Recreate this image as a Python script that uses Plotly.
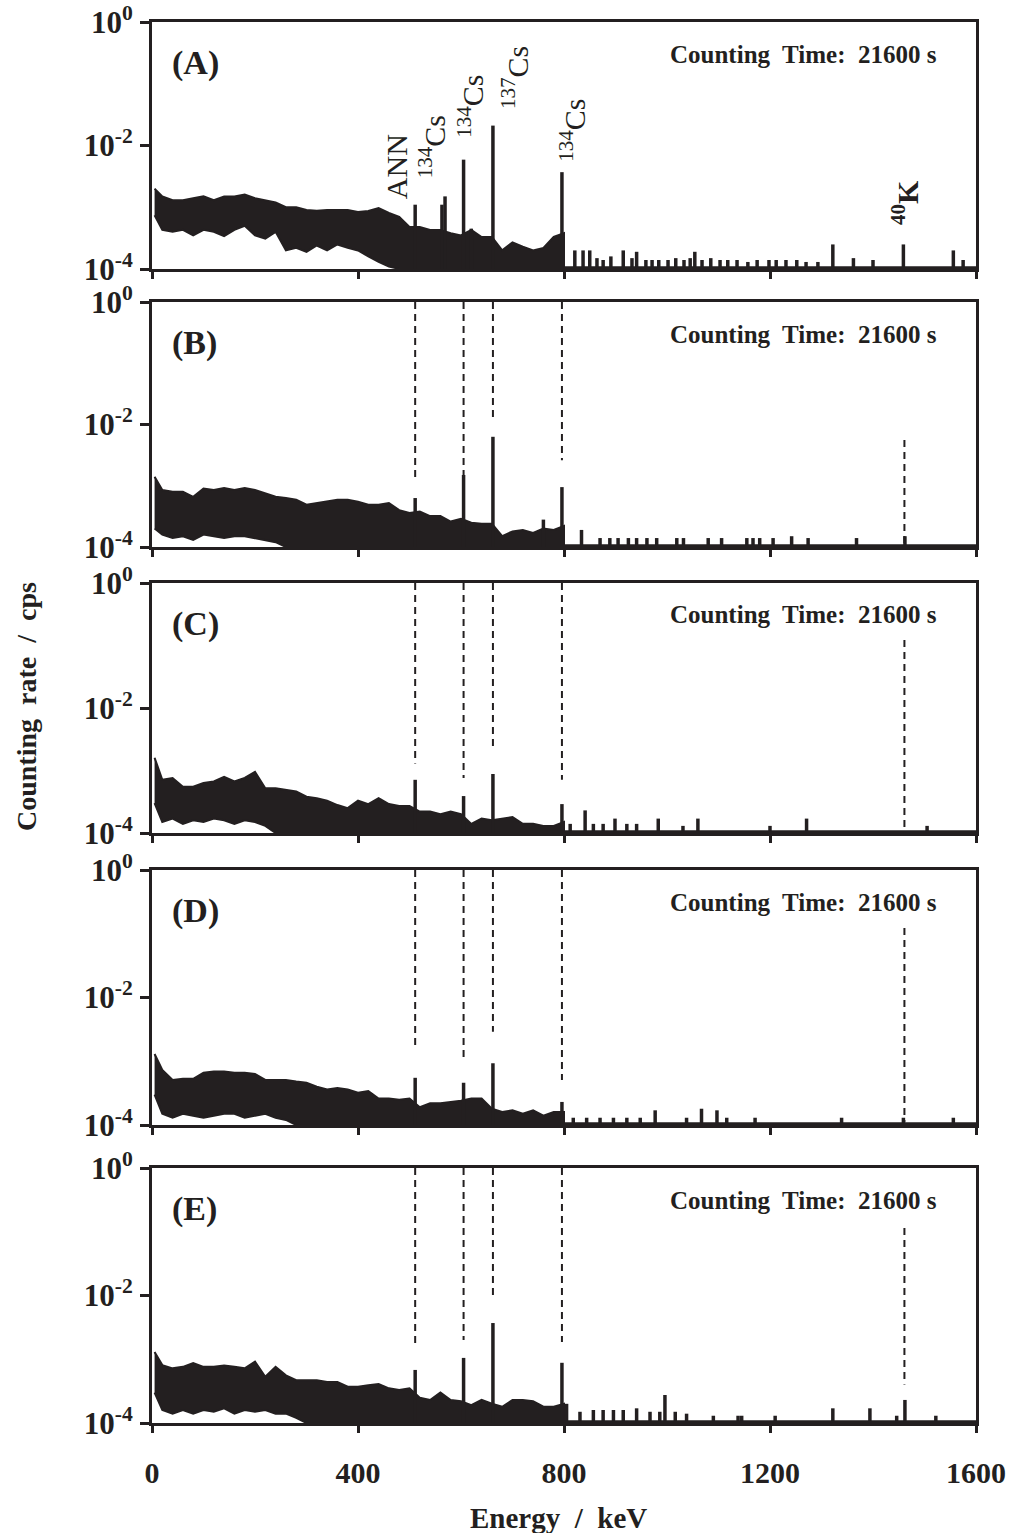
import plotly.graph_objects as go

# ---------------- data ----------------
energy_grid = [5, 20, 40, 60, 80, 100, 120, 140, 160, 180, 200, 220, 240, 260, 280, 300,
               320, 340, 360, 380, 400, 420, 440, 460, 480, 500, 520, 540, 560, 580, 600,
               620, 640, 660, 680, 700, 720, 740, 760, 780, 800]

upper_A = [2.0e-3, 1.5e-3, 1.3e-3, 1.3e-3, 1.4e-3, 1.5e-3, 1.3e-3, 1.5e-3, 1.5e-3, 1.6e-3,
           1.4e-3, 1.3e-3, 1.2e-3, 1.0e-3, 1.0e-3, 9.0e-4, 8.8e-4, 9.0e-4, 9.0e-4, 9.0e-4,
           8.4e-4, 8.7e-4, 9.7e-4, 8.1e-4, 7.0e-4, 4.8e-4, 4.8e-4, 4.3e-4, 4.3e-4, 3.8e-4,
           3.5e-4, 4.3e-4, 3.3e-4, 3.3e-4, 2.0e-4, 2.7e-4, 2.3e-4, 2.0e-4, 2.2e-4, 3.3e-4, 3.8e-4]
lower_A = [7.4e-4, 4.3e-4, 4.0e-4, 4.3e-4, 3.5e-4, 4.3e-4, 4.0e-4, 3.4e-4, 4.3e-4, 5.0e-4,
           3.5e-4, 3.1e-4, 4.0e-4, 2.0e-4, 2.2e-4, 1.9e-4, 2.4e-4, 2.0e-4, 2.5e-4, 2.2e-4,
           2.0e-4, 1.6e-4, 1.3e-4, 1.1e-4, 1e-4, 1e-4, 1e-4, 1e-4, 1e-4, 1e-4,
           1e-4, 1e-4, 1e-4, 1e-4, 1e-4, 1e-4, 1e-4, 1e-4, 1e-4, 1e-4, 1e-4]
peakE_A = [511, 563, 569, 605, 620, 662, 796, 821, 837, 850, 864, 876, 891, 915, 932, 941,
           959, 971, 984, 1002, 1017, 1033, 1045, 1054, 1068, 1085, 1103, 1118, 1136, 1157,
           1175, 1198, 1212, 1231, 1252, 1270, 1293, 1322, 1362, 1400, 1459, 1556, 1575]
peakH_A = [1.1e-3, 1.1e-3, 1.5e-3, 5.9e-3, 4.5e-4, 2.1e-2, 3.7e-3, 2.0e-4, 2.0e-4, 2.0e-4,
           1.5e-4, 1.4e-4, 1.6e-4, 2.0e-4, 1.5e-4, 1.9e-4, 1.4e-4, 1.4e-4, 1.4e-4, 1.4e-4,
           1.5e-4, 1.4e-4, 1.5e-4, 1.9e-4, 1.4e-4, 1.5e-4, 1.4e-4, 1.4e-4, 1.4e-4, 1.3e-4,
           1.4e-4, 1.4e-4, 1.4e-4, 1.4e-4, 1.4e-4, 1.3e-4, 1.3e-4, 2.5e-4, 1.5e-4, 1.4e-4,
           2.5e-4, 2.0e-4, 1.4e-4]

upper_B = [1.4e-3, 8.5e-4, 8.0e-4, 8.0e-4, 6.6e-4, 9.0e-4, 8.5e-4, 9.2e-4, 8.5e-4, 9.2e-4,
           8.5e-4, 7.6e-4, 6.6e-4, 6.3e-4, 5.9e-4, 4.9e-4, 5.2e-4, 5.5e-4, 5.9e-4, 5.9e-4,
           5.5e-4, 4.9e-4, 4.9e-4, 5.2e-4, 4.0e-4, 3.6e-4, 3.8e-4, 3.2e-4, 3.2e-4, 2.6e-4,
           2.9e-4, 2.5e-4, 2.4e-4, 2.4e-4, 1.5e-4, 1.8e-4, 1.9e-4, 1.7e-4, 2.0e-4, 1.9e-4, 2.2e-4]
lower_B = [2.0e-4, 1.6e-4, 1.4e-4, 1.5e-4, 1.3e-4, 1.6e-4, 1.5e-4, 1.4e-4, 1.5e-4, 1.5e-4,
           1.4e-4, 1.3e-4, 1.2e-4, 1e-4, 1e-4, 1e-4, 1e-4, 1e-4, 1e-4, 1e-4,
           1e-4, 1e-4, 1e-4, 1e-4, 1e-4, 1e-4, 1e-4, 1e-4, 1e-4, 1e-4,
           1e-4, 1e-4, 1e-4, 1e-4, 1e-4, 1e-4, 1e-4, 1e-4, 1e-4, 1e-4, 1e-4]
peakE_B = [511, 605, 662, 760, 796, 834, 870, 889, 905, 925, 941, 961, 980, 1019, 1032, 1080,
           1106, 1155, 1167, 1180, 1206, 1242, 1274, 1368, 1462]
peakH_B = [6.3e-4, 1.5e-3, 6.3e-3, 2.8e-4, 9.5e-4, 1.9e-4, 1.4e-4, 1.4e-4, 1.4e-4, 1.4e-4,
           1.4e-4, 1.4e-4, 1.4e-4, 1.4e-4, 1.4e-4, 1.4e-4, 1.4e-4, 1.4e-4, 1.4e-4, 1.4e-4,
           1.4e-4, 1.5e-4, 1.4e-4, 1.4e-4, 1.5e-4]

upper_C = [1.6e-3, 7.1e-4, 7.6e-4, 5.5e-4, 5.5e-4, 6.3e-4, 6.7e-4, 7.9e-4, 6.7e-4, 7.6e-4,
           9.5e-4, 5.2e-4, 5.2e-4, 4.9e-4, 4.6e-4, 3.8e-4, 3.6e-4, 3.3e-4, 2.8e-4, 2.5e-4,
           3.3e-4, 2.9e-4, 3.6e-4, 2.9e-4, 2.7e-4, 2.7e-4, 2.2e-4, 2.2e-4, 2.0e-4, 2.2e-4,
           2.0e-4, 1.4e-4, 1.7e-4, 1.6e-4, 1.7e-4, 1.8e-4, 1.4e-4, 1.4e-4, 1.3e-4, 1.3e-4, 1.5e-4]
lower_C = [3.0e-4, 1.5e-4, 1.7e-4, 1.4e-4, 1.6e-4, 1.5e-4, 1.7e-4, 1.6e-4, 1.4e-4, 1.6e-4,
           1.5e-4, 1.3e-4, 1e-4, 1e-4, 1e-4, 1e-4, 1e-4, 1e-4, 1e-4, 1e-4,
           1e-4, 1e-4, 1e-4, 1e-4, 1e-4, 1e-4, 1e-4, 1e-4, 1e-4, 1e-4,
           1e-4, 1e-4, 1e-4, 1e-4, 1e-4, 1e-4, 1e-4, 1e-4, 1e-4, 1e-4, 1e-4]
peakE_C = [511, 605, 662, 796, 812, 841, 857, 876, 899, 922, 941, 983, 1031, 1060, 1200, 1271, 1505]
peakH_C = [7.1e-4, 3.9e-4, 8.8e-4, 2.9e-4, 1.4e-4, 2.3e-4, 1.4e-4, 1.4e-4, 1.7e-4, 1.4e-4,
           1.4e-4, 1.7e-4, 1.3e-4, 1.7e-4, 1.3e-4, 1.7e-4, 1.3e-4]

upper_D = [1.3e-3, 7.3e-4, 5.1e-4, 5.3e-4, 5.3e-4, 6.6e-4, 6.9e-4, 6.9e-4, 6.6e-4, 6.6e-4,
           6.3e-4, 5.1e-4, 5.1e-4, 5.1e-4, 4.8e-4, 4.6e-4, 4.0e-4, 3.6e-4, 3.8e-4, 3.6e-4,
           3.2e-4, 3.4e-4, 2.6e-4, 2.6e-4, 2.5e-4, 2.6e-4, 1.9e-4, 2.2e-4, 2.2e-4, 2.3e-4,
           2.4e-4, 2.6e-4, 2.6e-4, 1.8e-4, 1.6e-4, 1.7e-4, 1.5e-4, 1.7e-4, 1.4e-4, 1.6e-4, 1.6e-4]
lower_D = [3.0e-4, 1.5e-4, 1.3e-4, 1.5e-4, 1.4e-4, 1.3e-4, 1.4e-4, 1.5e-4, 1.5e-4, 1.3e-4,
           1.4e-4, 1.5e-4, 1.3e-4, 1.2e-4, 1e-4, 1e-4, 1e-4, 1e-4, 1e-4, 1e-4,
           1e-4, 1e-4, 1e-4, 1e-4, 1e-4, 1e-4, 1e-4, 1e-4, 1e-4, 1e-4,
           1e-4, 1e-4, 1e-4, 1e-4, 1e-4, 1e-4, 1e-4, 1e-4, 1e-4, 1e-4, 1e-4]
peakE_D = [511, 605, 662, 796, 818, 844, 870, 896, 922, 948, 977, 1038, 1067, 1097, 1116,
           1171, 1339, 1459, 1556]
peakH_D = [5.5e-4, 4.6e-4, 9.3e-4, 2.3e-4, 1.3e-4, 1.3e-4, 1.3e-4, 1.3e-4, 1.3e-4, 1.3e-4,
           1.7e-4, 1.3e-4, 1.8e-4, 1.7e-4, 1.3e-4, 1.3e-4, 1.3e-4, 1.3e-4, 1.3e-4]

upper_E = [1.3e-3, 8.1e-4, 7.2e-4, 7.6e-4, 8.7e-4, 7.6e-4, 7.6e-4, 8.0e-4, 7.6e-4, 7.2e-4,
           9.2e-4, 5.3e-4, 7.6e-4, 5.6e-4, 4.7e-4, 4.7e-4, 4.7e-4, 4.4e-4, 4.4e-4, 3.7e-4,
           3.7e-4, 3.9e-4, 4.1e-4, 3.5e-4, 3.3e-4, 3.5e-4, 2.5e-4, 2.3e-4, 3.0e-4, 2.3e-4,
           2.2e-4, 1.9e-4, 2.3e-4, 2.0e-4, 1.8e-4, 2.3e-4, 2.3e-4, 2.2e-4, 1.8e-4, 1.8e-4, 2.0e-4]
lower_E = [3.0e-4, 1.6e-4, 1.4e-4, 1.6e-4, 1.4e-4, 1.6e-4, 1.5e-4, 1.7e-4, 1.4e-4, 1.6e-4,
           1.5e-4, 1.6e-4, 1.4e-4, 1.4e-4, 1.2e-4, 1e-4, 1e-4, 1e-4, 1e-4, 1e-4,
           1e-4, 1e-4, 1e-4, 1e-4, 1e-4, 1e-4, 1e-4, 1e-4, 1e-4, 1e-4,
           1e-4, 1e-4, 1e-4, 1e-4, 1e-4, 1e-4, 1e-4, 1e-4, 1e-4, 1e-4, 1e-4]
peakE_E = [511, 605, 662, 796, 805, 831, 857, 876, 896, 915, 941, 967, 986, 996, 1016, 1038,
           1090, 1138, 1145, 1210, 1322, 1394, 1446, 1462, 1522]
peakH_E = [6.8e-4, 1.05e-3, 3.7e-3, 8.8e-4, 2.0e-4, 1.5e-4, 1.6e-4, 1.6e-4, 1.6e-4, 1.6e-4,
           1.7e-4, 1.5e-4, 1.5e-4, 2.75e-4, 1.5e-4, 1.4e-4, 1.3e-4, 1.3e-4, 1.3e-4, 1.3e-4,
           1.7e-4, 1.7e-4, 1.3e-4, 2.3e-4, 1.3e-4]

# reference lines (keV) and their vertical extents in panels B-E (cps)
ref_energies = [511, 605, 662, 796, 1461]
ref_top = {
    "B": [1, 1, 1, 1, 5.6e-3],
    "C": [1, 1, 1, 1, 1.23e-1],
    "D": [1, 1, 1, 1, 1.23e-1],
    "E": [1, 1, 1, 1, 1.15e-1],
}
ref_bottom = {
    "B": [1.35e-3, 1.5e-3, 1.17e-2, 2.6e-3, 1.07e-4],
    "C": [1.3e-3, 7.6e-4, 2.4e-3, 7.1e-4, 1.0e-4],
    "D": [1.66e-3, 9.8e-4, 2.9e-3, 5.1e-4, 1.1e-4],
    "E": [1.66e-3, 2.0e-3, 8.5e-3, 1.86e-3, 4.0e-4],
}

panel_names = ["A", "B", "C", "D", "E"]
panel_labels = ["(A)", "(B)", "(C)", "(D)", "(E)"]
uppers = [upper_A, upper_B, upper_C, upper_D, upper_E]
lowers = [lower_A, lower_B, lower_C, lower_D, lower_E]
peakEs = [peakE_A, peakE_B, peakE_C, peakE_D, peakE_E]
peakHs = [peakH_A, peakH_B, peakH_C, peakH_D, peakH_E]
counting_text = "Counting\u00a0 Time:\u00a0 21600\u00a0s"

x_ticks = [0, 400, 800, 1200, 1600]
x_tick_text = ["0", "400", "800", "1200", "1600"]
y_ticks = [1e-4, 1e-2, 1]
y_tick_text = ["10<sup>-4</sup>", "10<sup>-2</sup>", "10<sup>0</sup>"]

# nuclide labels in panel A: (text, energy position, pixel centre y, weight)
nuclide_labels = [("ANN", 476, 167, "normal"),
                  ("<sup>134</sup>Cs", 544, 147, "normal"),
                  ("<sup>134</sup>Cs", 619, 106, "normal"),
                  ("<sup>137</sup>Cs", 705, 78, "normal"),
                  ("<sup>134</sup>Cs", 817, 130, "normal"),
                  ("<sup>40</sup>K", 1462, 202, "bold")]

# ---------------- layout geometry (pixels) ----------------
W, H = 1010, 1533
X_LEFT, X_RIGHT = 152, 976
panel_px = [(22, 269), (302, 547), (583, 833), (870, 1125), (1168, 1423)]
FONT = "Liberation Serif"
INK = "#231f20"


def py(p):
    return 1 - p / H


def px(p):
    return p / W


fig = go.Figure()
layout = dict(
    width=W, height=H,
    margin=dict(l=0, r=0, t=0, b=0, autoexpand=False),
    paper_bgcolor="white", plot_bgcolor="white",
    showlegend=False,
    annotations=[],
)

for i, name in enumerate(panel_names):
    n = "" if i == 0 else str(i + 1)
    xa, ya = "x" + n, "y" + n
    top, bot = panel_px[i]

    # continuum band
    bx = energy_grid + energy_grid[::-1]
    by = uppers[i] + lowers[i][::-1]
    fig.add_trace(go.Scatter(x=bx, y=by, mode="lines", fill="toself",
                             fillcolor=INK, line=dict(color=INK, width=2),
                             xaxis=xa, yaxis=ya, hoverinfo="skip"))
    # peaks / single-channel spikes
    sx, sy = [], []
    for e, h in zip(peakEs[i], peakHs[i]):
        sx += [e, e, None]
        sy += [1e-4, h, None]
    fig.add_trace(go.Scatter(x=sx, y=sy, mode="lines",
                             line=dict(color=INK, width=3.5),
                             xaxis=xa, yaxis=ya, hoverinfo="skip"))
    # baseline on the high energy side
    fig.add_trace(go.Scatter(x=[800, 1600], y=[1.05e-4, 1.05e-4], mode="lines",
                             line=dict(color=INK, width=3),
                             xaxis=xa, yaxis=ya, hoverinfo="skip"))
    # dashed reference lines
    if name in ref_top:
        dx, dy = [], []
        for e, t, b in zip(ref_energies, ref_top[name], ref_bottom[name]):
            dx += [e, e, None]
            dy += [t, b, None]
        fig.add_trace(go.Scatter(x=dx, y=dy, mode="lines",
                                 line=dict(color=INK, width=2, dash="7px,5px"),
                                 xaxis=xa, yaxis=ya, hoverinfo="skip"))

    last = (i == len(panel_names) - 1)
    layout["xaxis" + n] = dict(
        domain=[px(X_LEFT), px(X_RIGHT)], range=[0, 1600], anchor=ya,
        tickmode="array", tickvals=x_ticks, ticktext=x_tick_text,
        ticks="outside", ticklen=7, tickwidth=3, tickcolor=INK,
        showline=True, linewidth=3, linecolor=INK, mirror=True,
        showgrid=False, zeroline=False, showticklabels=last,
        ticklabelstandoff=14, automargin=False,
        tickfont=dict(family=FONT, size=30, color=INK, weight="bold"),
    )
    layout["yaxis" + n] = dict(
        domain=[py(bot), py(top)], type="log", range=[-4, 0], anchor=xa,
        tickmode="array", tickvals=y_ticks, ticktext=y_tick_text,
        ticks="outside", ticklen=9, tickwidth=3, tickcolor=INK,
        showline=True, linewidth=3, linecolor=INK, mirror=True,
        showgrid=False, zeroline=False, ticklabelstandoff=1, automargin=False,
        tickfont=dict(family=FONT, size=31, color=INK, weight="bold"),
    )
    # panel label
    layout["annotations"].append(dict(
        text=panel_labels[i], xref="paper", yref="paper",
        x=px(170), y=py(top + 41), xanchor="left", yanchor="middle",
        showarrow=False, font=dict(family=FONT, size=34, color=INK, weight="bold")))
    # counting time
    layout["annotations"].append(dict(
        text=counting_text, xref="paper", yref="paper",
        x=px(939), y=py(top + 32), xanchor="right", yanchor="middle",
        showarrow=False, font=dict(family=FONT, size=25, color=INK, weight="bold")))

# nuclide labels (rotated)
for txt, e, ypix, wt in nuclide_labels:
    layout["annotations"].append(dict(
        text=txt, xref="x", yref="paper", x=e, y=py(ypix),
        xanchor="center", yanchor="middle", textangle=-90, showarrow=False,
        font=dict(family=FONT, size=30, color=INK, weight=wt)))

# axis titles
layout["annotations"].append(dict(
    text="Energy\u00a0 /\u00a0 keV", xref="paper", yref="paper",
    x=px(558), y=py(1518), xanchor="center", yanchor="middle", showarrow=False,
    font=dict(family=FONT, size=29, color=INK, weight="bold")))
layout["annotations"].append(dict(
    text="Counting\u00a0 rate\u00a0 /\u00a0 cps", xref="paper", yref="paper",
    x=px(27), y=py(707), xanchor="center", yanchor="middle", textangle=-90,
    showarrow=False, font=dict(family=FONT, size=28, color=INK, weight="bold")))

fig.update_layout(**layout)
fig.write_html("out.html")
